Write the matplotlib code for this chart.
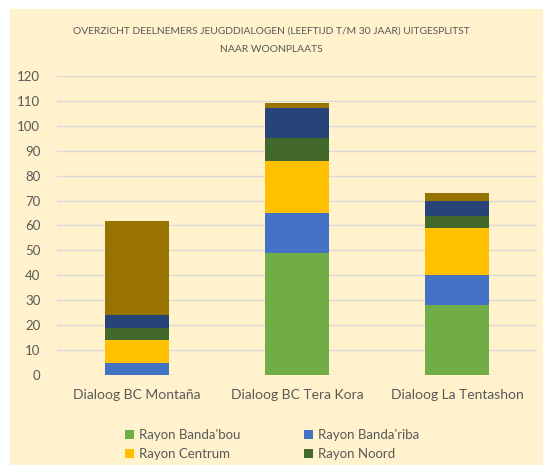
import matplotlib
matplotlib.use("Agg")
import matplotlib.pyplot as plt
import numpy as np
from matplotlib.patches import Rectangle

plt.rcParams["font.family"] = ["Lato", "DejaVu Sans"]

categories = ["Dialoog BC Montaña", "Dialoog BC Tera Kora", "Dialoog La Tentashon"]
series = ["Rayon Banda'bou", "Rayon Banda'riba", "Rayon Centrum", "Rayon Noord",
          "Rayon Oost", "Overig"]
banda_bou = [0, 49, 28]
banda_riba = [5, 16, 12]
centrum = [9, 21, 19]
noord = [5, 9, 5]
oost = [5, 12, 6]
overig = [38, 2, 3]
values = [banda_bou, banda_riba, centrum, noord, oost, overig]
colors = ["#70AD47", "#4472C4", "#FFC000", "#43682B", "#264478", "#997300"]

BG = "#FFF2CC"
TXT = "#595959"

fig = plt.figure(figsize=(5.43, 4.65), dpi=100, facecolor="white")
fig.patches.append(Rectangle((10 / 543, 0), 1, 1 - 9 / 465, transform=fig.transFigure,
                             facecolor=BG, edgecolor="none", zorder=-10))

ax = fig.add_axes([57 / 543, 1 - 375 / 465, 480 / 543, 299 / 465])
ax.set_facecolor(BG)
x = np.arange(len(categories))
bottom = np.zeros(len(categories))
handles = []
for name, vals, c in zip(series, values, colors):
    h = ax.bar(x, vals, 0.4, bottom=bottom, color=c, label=name, zorder=3)
    handles.append(h)
    bottom += np.array(vals)

ax.set_xlim(-0.5, 2.5)
ax.set_ylim(0, 120)
ax.set_yticks(range(0, 121, 10))
ax.grid(axis="y", color="#D9D9D9", lw=1, zorder=0)
for s in ax.spines.values():
    s.set_visible(False)
ax.tick_params(length=0, colors=TXT, labelsize=9.5)
ax.tick_params(axis="y", pad=12)
ax.tick_params(axis="x", pad=10, labelsize=10)
ax.set_xticks(x)
ax.set_xticklabels(categories)

fig.text(0.5, 1 - 31 / 465, "OVERZICHT DEELNEMERS JEUGDDIALOGEN (LEEFTIJD T/M 30 JAAR) UITGESPLITST",
         ha="center", va="center", fontsize=7.4, color=TXT)
fig.text(0.5, 1 - 49 / 465, "NAAR WOONPLAATS", ha="center", va="center", fontsize=7.4, color=TXT)

# legend fills row-wise in the reference: reorder for matplotlib's column fill
order = [0, 2, 1, 3]
leg = fig.legend([handles[i] for i in order], [series[i] for i in order], ncol=2, loc="center",
                 bbox_to_anchor=(272 / 543, 1 - 444.5 / 465), frameon=False,
                 fontsize=9.5, handlelength=0.7, handleheight=0.7, handletextpad=0.4,
                 columnspacing=4.8, labelspacing=0.5)
for t in leg.get_texts():
    t.set_color(TXT)

fig.savefig("out.png", dpi=100, facecolor="white")
